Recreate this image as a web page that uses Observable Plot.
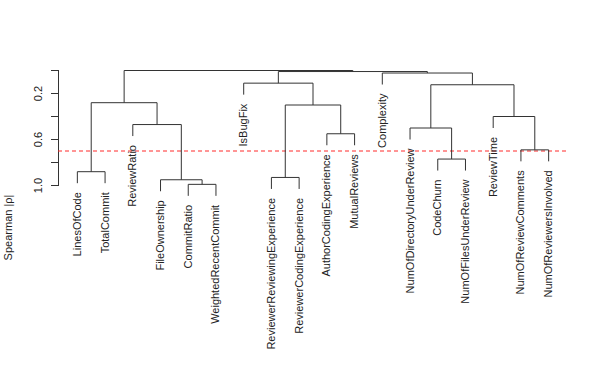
<!DOCTYPE html>
<html><head><meta charset="utf-8">
<script src="https://cdn.jsdelivr.net/npm/d3@7"></script>
<script src="https://cdn.jsdelivr.net/npm/@observablehq/plot@0.6"></script>
<style>body{margin:0;background:#fff;}</style>
</head><body><div id="chart"></div>
<script>
// Leaves in plotting order (1..18)
const leafLabels = [
  "LinesOfCode","TotalCommit","ReviewRatio","FileOwnership","CommitRatio",
  "WeightedRecentCommit","IsBugFix","ReviewerReviewingExperience",
  "ReviewerCodingExperience","AuthorCodingExperience","MutualReviews",
  "Complexity","NumOfDirectoryUnderReview","CodeChurn","NumOfFilesUnderReview",
  "ReviewTime","NumOfReviewComments","NumOfReviewersInvolved"
];
// hclust-style merges: negative = leaf number, positive = earlier merge step
const mergeLeft   = [-5, -8, -4, -1, -14, -17, -10, -3, -13, -16,  2,  4,  9, -7, -12, 14, 12];
const mergeRight  = [-6, -9,  1, -2, -15, -18, -11,  3,   5,   6,  7,  8, 10, 11,  13, 15, 16];
const mergeHeight = [0.99,0.93,0.95,0.88,0.77,0.69,0.55,0.47,0.50,0.40,0.30,0.28,0.124,0.11,0.022,0.009,0.0];
const cutoff = 0.7;
const yTicks = [0, 0.2, 0.4, 0.6, 0.8, 1.0];
const yTickLabels = ["", "0.2", "", "0.6", "", "1.0"];
const yTitle = "Spearman |\u03c1|";
const hang = 0.1;

// Build dendrogram segments from the merge table
const nodeX = [];
const segs = [];
const leafEnd = new Array(leafLabels.length);
function ref(r) { return r < 0 ? {x: -r, h: null, leaf: true} : {x: nodeX[r - 1], h: mergeHeight[r - 1], leaf: false}; }
mergeHeight.forEach((h, i) => {
  const a = ref(mergeLeft[i]), b = ref(mergeRight[i]);
  nodeX[i] = (a.x + b.x) / 2;
  segs.push({x1: a.x, x2: b.x, y1: h, y2: h});
  [[mergeLeft[i], a], [mergeRight[i], b]].forEach(([r, c]) => {
    const bottom = c.leaf ? h + hang : c.h;
    segs.push({x1: c.x, x2: c.x, y1: h, y2: bottom});
    if (c.leaf) leafEnd[-r - 1] = bottom;
  });
});

const chart = Plot.plot({
  width: 598, height: 386,
  marginLeft: 58, marginRight: 31, marginTop: 70, marginBottom: 201,
  x: {domain: [0.32, 18.68], axis: null},
  y: {domain: [0, 1], reverse: true, axis: null},
  style: {fontFamily: "'Liberation Sans', Arial, Helvetica, sans-serif", background: "#fff", color: "#000"},
  marks: [
    Plot.frame({anchor: "left", stroke: "#333"}),
    Plot.axisY({ticks: yTicks, tickSize: 7, tickFormat: () => "", label: null, stroke: "#333"}),
    Plot.text(yTicks, {y: d => d, text: (d, i) => yTickLabels[i], frameAnchor: "left", textAnchor: "middle", lineAnchor: "middle", dx: -20, rotate: -90, fontSize: 11, fill: "#222"}),
    Plot.text([yTitle], {frameAnchor: "bottom-left", textAnchor: "middle", lineAnchor: "middle", dx: -50, dy: 42, rotate: -90, fontSize: 11, fill: "#222"}),
    Plot.ruleY([cutoff], {stroke: "#ff2a2a", strokeDasharray: "4,3", strokeWidth: 1}),
    Plot.link(segs, {x1: "x1", x2: "x2", y1: "y1", y2: "y2", stroke: "#333", strokeWidth: 1}),
    Plot.text(leafLabels, {x: (d, i) => i + 1, y: (d, i) => leafEnd[i], text: d => d, rotate: -90, textAnchor: "end", lineAnchor: "middle", dy: 9, fontSize: 11, fill: "#222"})
  ]
});
document.getElementById("chart").appendChild(chart);
</script>
</body></html>
